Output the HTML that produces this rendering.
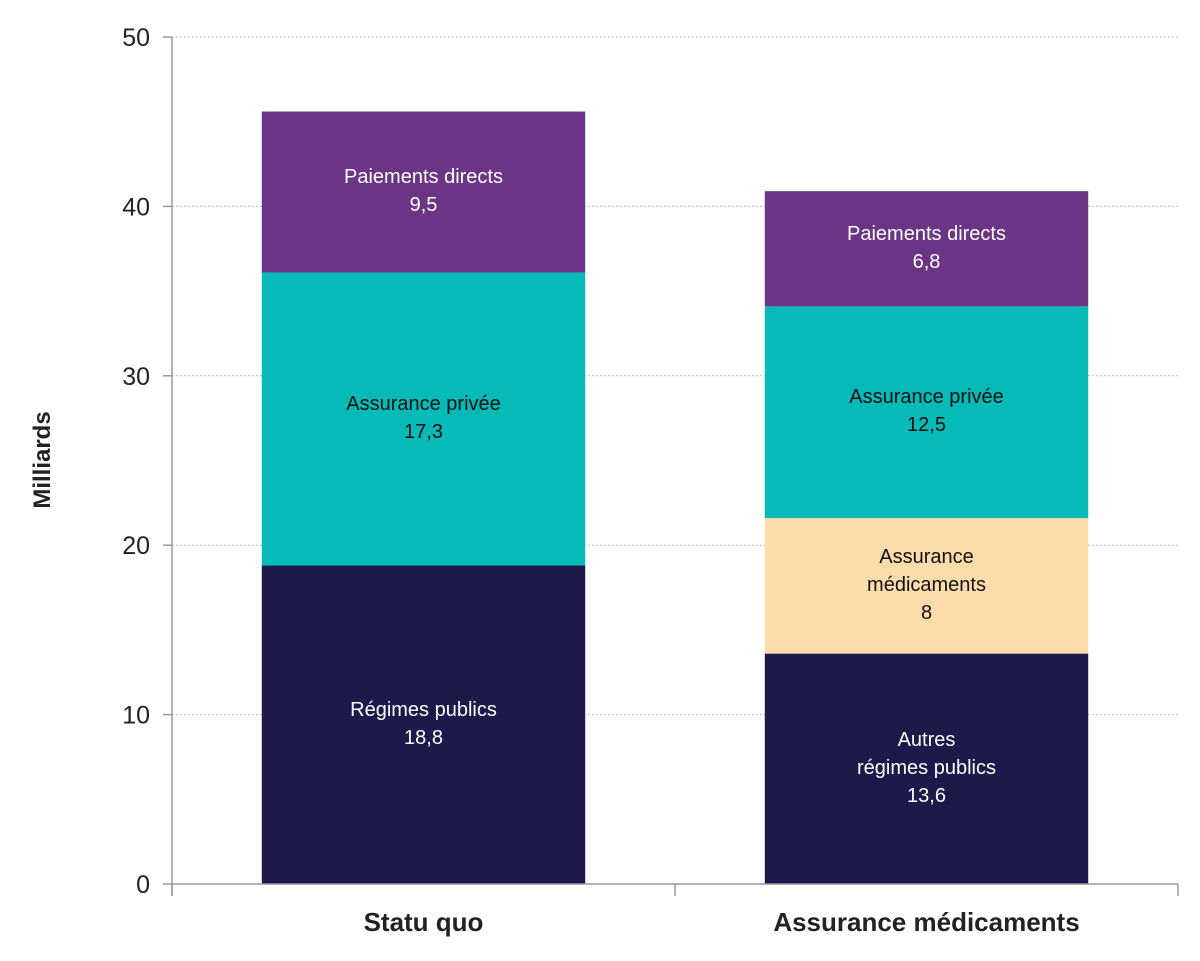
<!DOCTYPE html>
<html><head><meta charset="utf-8"><style>
html,body{margin:0;padding:0;background:#fff;}
svg{display:block;font-family:"Liberation Sans",sans-serif;}
</style></head><body>
<svg id="chart" width="1200" height="961"></svg>
<script>
const categories = ["Statu quo", "Assurance médicaments"];
const seriesNames = ["Régimes publics", "Assurance médicaments", "Assurance privée", "Paiements directs"];
const seriesLabels = [
  [["Régimes publics"], ["Autres", "régimes publics"]],
  [null, ["Assurance", "médicaments"]],
  [["Assurance privée"], ["Assurance privée"]],
  [["Paiements directs"], ["Paiements directs"]]
];
const regimesPublics = [18.8, 13.6];
const assuranceMedicaments = [0, 8];
const assurancePrivee = [17.3, 12.5];
const paiementsDirects = [9.5, 6.8];
const valueLabels = [["18,8", "13,6"], ["", "8"], ["17,3", "12,5"], ["9,5", "6,8"]];
const yTicks = [0, 10, 20, 30, 40, 50];

const series = [regimesPublics, assuranceMedicaments, assurancePrivee, paiementsDirects];
const colors = ["#1c1a4b", "#fddcab", "#05bab7", "#6b3485"];
const textColors = ["#fff", "#111", "#111", "#fff"];
const NS = "http://www.w3.org/2000/svg";
const svg = document.getElementById("chart");
const x0 = 172, x1 = 1178, yBase = 884, yTop = 37, yMax = 50;
const y = v => yBase - (v / yMax) * (yBase - yTop);
const bandW = (x1 - x0) / categories.length;
const barW = bandW * 0.643;
const bx = i => x0 + bandW * i + (bandW - barW) / 2;
function el(tag, attrs, parent) {
  const e = document.createElementNS(NS, tag);
  for (const k in attrs) e.setAttribute(k, attrs[k]);
  (parent || svg).appendChild(e);
  return e;
}
yTicks.forEach(t => {
  if (t > 0) {
    const g = el("line", {x1: x0, x2: x1, y1: y(t), y2: y(t), stroke: "#aaa", "stroke-width": 1, "stroke-dasharray": "1.5,2.5"});
    
    
  }
  const tk = el("line", {x1: x0 - 9, x2: x0, y1: y(t), y2: y(t), stroke: "#999", "stroke-width": 1.5});
  
  
  const tl = el("text", {x: 150, y: y(t) + 9, "text-anchor": "end", "font-size": 25, fill: "#222"});
  tl.textContent = t;
  
  
});
categories.forEach((c, i) => {
  let acc = 0;
  series.forEach((s, j) => {
    const v = s[i];
    if (!v) return;
    const top = y(acc + v), bot = y(acc);
    const r = el("rect", {x: bx(i), y: top, width: barW, height: bot - top, fill: colors[j]});
    
    
    const lines = (seriesLabels[j][i] || []).concat([valueLabels[j][i]]);
    const lh = 28, cy = (top + bot) / 2 - 2 - (lines.length - 1) * lh / 2;
    lines.forEach((ln, k) => {
      const t = el("text", {x: bx(i) + barW / 2, y: cy + k * lh + 7, "text-anchor": "middle", "font-size": 20, fill: textColors[j]});
      t.textContent = ln;
      
      
    });
    acc += v;
  });
  const cl = el("text", {x: x0 + bandW * i + bandW / 2, y: 931, "text-anchor": "middle", "font-size": 26, "font-weight": "bold", fill: "#222"});
  cl.textContent = c;
  
  
});
const ya = el("line", {x1: x0, x2: x0, y1: yTop, y2: yBase + 12, stroke: "#999", "stroke-width": 1.5});


const xa = el("line", {x1: x0, x2: x1, y1: yBase, y2: yBase, stroke: "#999", "stroke-width": 1.5});


for (let i = 0; i <= categories.length; i++) {
  const xt = el("line", {x1: x0 + bandW * i, x2: x0 + bandW * i, y1: yBase, y2: yBase + 12, stroke: "#999", "stroke-width": 1.5});
  
  
}
const yt = el("text", {x: 0, y: 0, transform: "translate(50,460) rotate(-90)", "text-anchor": "middle", "font-size": 24, "font-weight": "bold", fill: "#222"});
yt.textContent = "Milliards";


</script>
</body></html>
